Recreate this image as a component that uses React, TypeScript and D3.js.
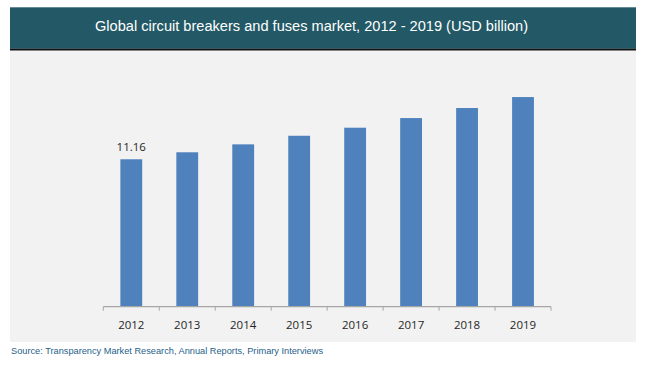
import React from 'react';
import * as d3 from 'd3';

const years = ['2012', '2013', '2014', '2015', '2016', '2017', '2018', '2019'];
const marketValues = [11.16, 11.69, 12.29, 12.94, 13.55, 14.28, 15.04, 15.87];
const labelledYear = '2012';

const W = 650;
const H = 366;

const App = () => {
  // chart area
  const x = d3.scaleBand<string>()
    .domain(years)
    .range([103.3, 551])
    .paddingInner(0.61)
    .paddingOuter(0.305);

  const y = d3.scaleLinear()
    .domain([0, 18])
    .range([306.7, 306.7 - 18 * 13.21]);

  const tickEdges = years.map(yr => x(yr)! - (x.step() - x.bandwidth()) / 2).concat([551]);

  return (
    <svg width={W} height={H} style={{ position: 'absolute', left: 0, top: 0, display: 'block' }}>
      <rect x={0} y={0} width={W} height={H} fill="#ffffff" />

      {/* header band */}
      <rect x={10} y={7.3} width={626} height={41.5} fill="#235966" />
      <rect x={10} y={48.7} width={626} height={2} fill="#111" />
      <text
        x={95}
        y={31}
        fill="#ffffff"
        fontFamily="'Liberation Sans Narrow', 'Arial Narrow', 'Liberation Sans', Arial, sans-serif"
        fontSize={15.5}
        textLength={433}
        lengthAdjust="spacingAndGlyphs"
      >
        Global circuit breakers and fuses market, 2012 - 2019 (USD billion)
      </text>

      {/* panel */}
      <rect x={10} y={50.7} width={626} height={291.3} fill="#f2f2f2" />

      {/* bars */}
      {years.map((yr, i) => (
        <rect
          key={yr}
          x={x(yr)}
          y={y(marketValues[i])}
          width={x.bandwidth()}
          height={y(0) - y(marketValues[i])}
          fill="#4f81bd"
        />
      ))}

      {/* data label */}
      {years.map((yr, i) => yr === labelledYear ? (
        <text
          key={'l' + yr}
          x={x(yr)! + x.bandwidth() / 2}
          y={y(marketValues[i]) - 8}
          textAnchor="middle"
          fill="#262626"
          fontFamily="'Open Sans', 'DejaVu Sans', sans-serif"
          fontSize={11.5}
        >
          {marketValues[i].toFixed(2)}
        </text>
      ) : null)}

      {/* x axis */}
      <line x1={103.3} x2={551} y1={y(0)} y2={y(0)} stroke="#a6a6a6" strokeWidth={1.2} />
      {tickEdges.map((tx, i) => (
        <line key={'t' + i} x1={tx} x2={tx} y1={y(0)} y2={y(0) + 4} stroke="#a6a6a6" strokeWidth={1} />
      ))}
      {years.map(yr => (
        <text
          key={'x' + yr}
          x={x(yr)! + x.bandwidth() / 2}
          y={328.5}
          textAnchor="middle"
          fill="#262626"
          fontFamily="'Open Sans', 'DejaVu Sans', sans-serif"
          fontSize={11.5}
        >
          {yr}
        </text>
      ))}

      {/* source */}
      <text
        x={11}
        y={354}
        fill="#1f5f8b"
        fontFamily="'Liberation Sans', Arial, sans-serif"
        fontSize={9.5}
        textLength={312}
        lengthAdjust="spacingAndGlyphs"
      >
        Source: Transparency Market Research, Annual Reports, Primary Interviews
      </text>
    </svg>
  );
};

export default App;
